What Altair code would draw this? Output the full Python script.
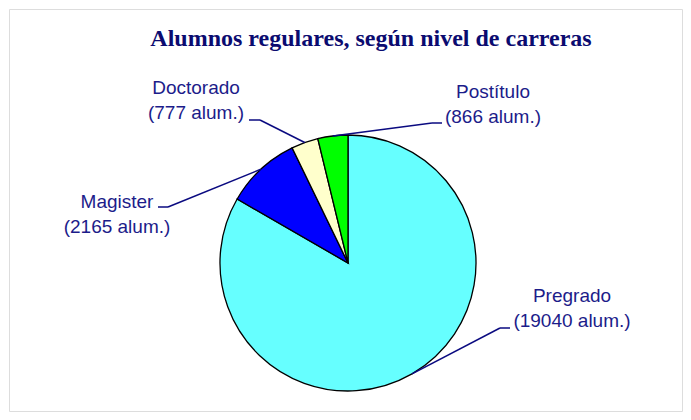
import math
import altair as alt
import pandas as pd

# ---- data ----
niveles = ["Pregrado", "Magister", "Doctorado", "Postítulo"]
alumnos = [19040, 2165, 777, 866]
colores = ["#66FFFF", "#0000FF", "#FFFFCC", "#00FF00"]
titulo = "Alumnos regulares, según nivel de carreras"

# ---- layout (pixels inside the framed view) ----
W, H, PAD = 673, 402, 1
CX, CY, R = 339, 254, 128
# label centre x, baseline of first line
label_pos = {"Pregrado": (563, 293), "Magister": (108, 199),
             "Doctorado": (187, 85), "Postítulo": (484, 89)}
LINE_GAP = 25
elbows = {"Pregrado": ((501, 319), (491, 319)),
          "Magister": ((149, 198), (159, 198)),
          "Doctorado": ((240, 111), (251, 111)),
          "Postítulo": ((433, 114), (423, 114))}
NAVY = "#1c1c8a"
LINE = "#0a0a80"
FONT = "Liberation Sans, Arial, sans-serif"

pie_df = pd.DataFrame({"nivel": niveles, "alumnos": alumnos, "orden": range(len(niveles))})

# leader-line anchors at the middle angle of each slice
total = sum(alumnos)
segs, labels = [], []
cum = 0
for n, v in zip(niveles, alumnos):
    mid = (cum + v / 2) / total * 2 * math.pi
    cum += v
    ax, ay = CX + R * math.sin(mid), CY - R * math.cos(mid)
    (x0, y0), (x1, y1) = elbows[n]
    segs.append({"x": x0, "y": y0, "x2": x1, "y2": y1})
    segs.append({"x": x1, "y": y1, "x2": ax, "y2": ay})
    lx, ly = label_pos[n]
    labels.append({"x": lx, "y": ly, "t": n})
    labels.append({"x": lx, "y": ly + LINE_GAP, "t": f"({v} alum.)"})
seg_df = pd.DataFrame(segs)
lab_df = pd.DataFrame(labels)

pie = alt.Chart(pie_df).mark_arc(stroke="black", strokeWidth=1.3, radius=R).encode(
    theta=alt.Theta("alumnos:Q", stack=True),
    order=alt.Order("orden:Q"),
    color=alt.Color("nivel:N", scale=alt.Scale(domain=niveles, range=colores), legend=None),
    x=alt.value(CX), y=alt.value(CY),
)

lines = alt.Chart(seg_df).mark_rule(color=LINE, strokeWidth=1.5).encode(
    x=alt.X("x:Q", scale=None, axis=None), y=alt.Y("y:Q", scale=None, axis=None),
    x2="x2:Q", y2="y2:Q",
)

texts = alt.Chart(lab_df).mark_text(font=FONT, fontSize=19, color=NAVY, baseline="alphabetic").encode(
    x=alt.X("x:Q", scale=None, axis=None), y=alt.Y("y:Q", scale=None, axis=None), text="t:N",
)

title = alt.Chart(pd.DataFrame({"t": [titulo]})).mark_text(
    font="Liberation Serif, Times New Roman, serif", fontSize=24, fontWeight="bold",
    color="#0b0b70", baseline="alphabetic",
).encode(x=alt.value(362), y=alt.value(37), text="t:N")

chart = alt.layer(pie, lines, texts, title).properties(
    width=W + 2 * PAD, height=H + 2 * PAD, padding=PAD,
    autosize=alt.AutoSizeParams(type="fit", contains="padding"),
).configure_view(stroke="#0a0a80", strokeWidth=1.5).configure(background="white")

chart.save("out.html", embed_options={"renderer": "svg", "actions": False})
